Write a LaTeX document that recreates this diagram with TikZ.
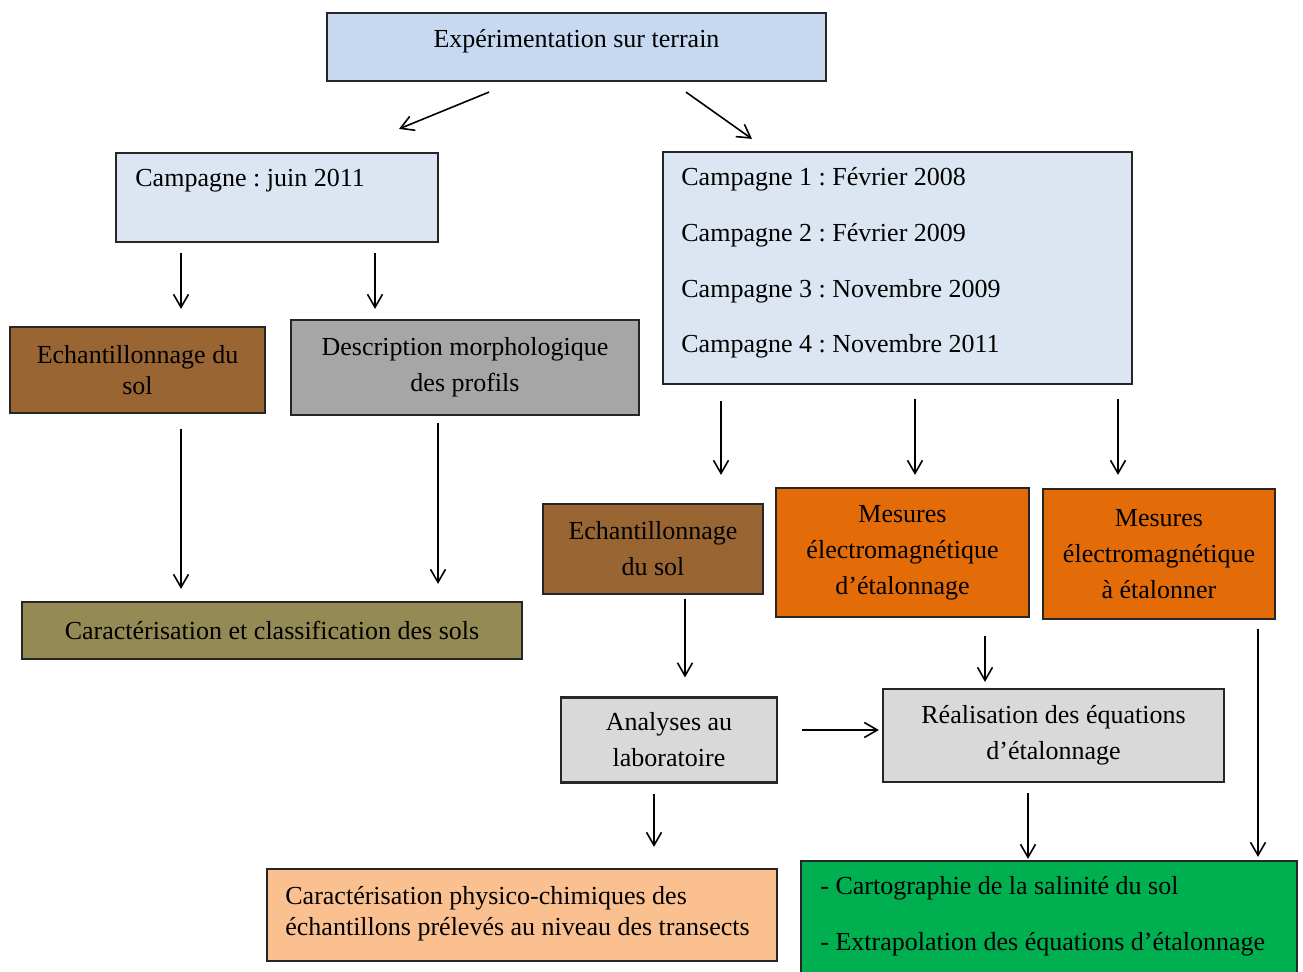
\documentclass[tikz,border=0pt]{standalone}
\usepackage{fontspec}
\setmainfont{Liberation Serif}
\usetikzlibrary{arrows.meta,calc}
\definecolor{topblue}{HTML}{C6D9F1}
\definecolor{lightblue}{HTML}{DCE6F2}
\definecolor{soilbrown}{HTML}{996633}
\definecolor{midgray}{HTML}{A6A6A6}
\definecolor{olive}{HTML}{948A54}
\definecolor{emorange}{HTML}{E36C09}
\definecolor{lightgray}{HTML}{D9D9D9}
\definecolor{peach}{HTML}{FAC090}
\definecolor{mapgreen}{HTML}{00B050}
\frenchspacing
\begin{document}
\begin{tikzpicture}[x=0.5pt,y=-0.5pt,
  box/.style={draw=black!85, line width=1.1pt, inner sep=0pt, align=center,
    font=\fontsize{13}{18}\selectfont},
  txt/.style={inner sep=0pt, font=\fontsize{13}{18}\selectfont},
  arr/.style={-{Straight Barb[length=6.5pt,width=7.5pt]}, line width=0.8pt}]
\useasboundingbox (0,0) rectangle (1303,971);
% boxes
\node[box, fill=topblue, minimum width=249.5pt, minimum height=34pt] (top) at (576.5,47) {};
\node[txt] (toptxt) at (576.5,41) {Expérimentation sur terrain};
\node[box, fill=lightblue, minimum width=161pt, minimum height=44.5pt] (camp) at (277,197.5) {};
\node[txt, anchor=west] (camptxt) at (135,181) {Campagne : juin 2011};
\node[box, fill=lightblue, minimum width=234.5pt, minimum height=116pt] (camps) at (897.5,268) {};
\node[txt, anchor=west] (c1) at (681,179) {Campagne 1 : Février 2008};
\node[txt, anchor=west] (c2) at (681,235) {Campagne 2 : Février 2009};
\node[txt, anchor=west] (c3) at (681,291) {Campagne 3 : Novembre 2009};
\node[txt, anchor=west] (c4) at (681,346) {Campagne 4 : Novembre 2011};
\node[box, fill=soilbrown, minimum width=127.5pt, minimum height=43pt,
  font=\fontsize{13}{15.5}\selectfont] (ech1) at (137.5,370) {Echantillonnage du\\sol};
\node[box, fill=midgray, minimum width=174pt, minimum height=47.5pt] (desc) at (465,367.5) {Description morphologique\\des profils};
\node[box, fill=olive, minimum width=250pt, minimum height=28.5pt] (carac) at (272,630.5) {Caractérisation et classification des sols};
\node[box, fill=soilbrown, minimum width=110pt, minimum height=45pt] (ech2) at (653,549) {Echantillonnage\\du sol};
\node[box, fill=emorange, minimum width=126.5pt, minimum height=64.5pt] (mes1) at (902.5,552.5) {Mesures\\électromagnétique\\d'étalonnage};
\node[box, fill=emorange, minimum width=116pt, minimum height=65pt] (mes2) at (1159,554) {Mesures\\électromagnétique\\à étalonner};
\node[box, fill=lightgray, minimum width=108pt, minimum height=42.5pt] (anal) at (669,740) {Analyses au\\laboratoire};
\node[box, fill=lightgray, minimum width=170.5pt, minimum height=46.5pt] (real) at (1053.5,735.5) {Réalisation des équations\\d'étalonnage};
\node[box, fill=peach, minimum width=255pt, minimum height=46pt] (phys) at (522,915) {};
\node[txt, anchor=west, align=left, font=\fontsize{13}{15.5}\selectfont] (phystxt) at (285,913.5) {Caractérisation physico-chimiques des\\échantillons prélevés au niveau des transects};
\node[box, fill=mapgreen, minimum width=248pt, minimum height=59.5pt] (green) at (1049,920.5) {};
\node[txt, anchor=west] (g1) at (820,888) {- Cartographie de la salinité du sol};
\node[txt, anchor=west] (g2) at (820,944) {- Extrapolation des équations d'étalonnage};
% arrows
\draw[arr] ($(top.south)+(-87.5,10)$) -- ($(camp.north)+(122,-23)$);
\draw[arr] ($(top.south)+(109.5,10)$) -- ($(camps.north)+(-145.5,-12)$);
\draw[arr] ($(camp.south)+(-96,10)$) -- ($(ech1.north)+(43.5,-17)$);
\draw[arr] ($(camp.south)+(98,10)$) -- ($(desc.north)+(-90,-10)$);
\draw[arr] ($(ech1.south)+(43.5,15)$) -- ($(carac.north)+(-91,-12)$);
\draw[arr] ($(desc.south)+(-27,7)$) -- ($(carac.north)+(166,-17)$);
\draw[arr] ($(camps.south)+(-176.5,16)$) -- ($(ech2.north)+(68,-28)$);
\draw[arr] ($(camps.south)+(17.5,14)$) -- ($(mes1.north)+(12.5,-12)$);
\draw[arr] ($(camps.south)+(220.5,14)$) -- ($(mes2.north)+(-41,-13)$);
\draw[arr] ($(ech2.south)+(32,4)$) -- ($(anal.north)+(16,-19)$);
\draw[arr] ($(mes1.south)+(82.5,18)$) -- ($(real.north)+(-68.5,-6)$);
\draw[arr] ($(anal.east)+(24,-10)$) -- ($(real.west)+(-3,-5.5)$);
\draw[arr] ($(mes2.south)+(99,9)$) -- ($(green.north)+(209,-3)$);
\draw[arr] ($(anal.south)+(-15,10)$) -- ($(phys.north)+(132,-21)$);
\draw[arr] ($(real.south)+(-25.5,10)$) -- ($(green.north)+(-21,-1)$);
\end{tikzpicture}
\end{document}
